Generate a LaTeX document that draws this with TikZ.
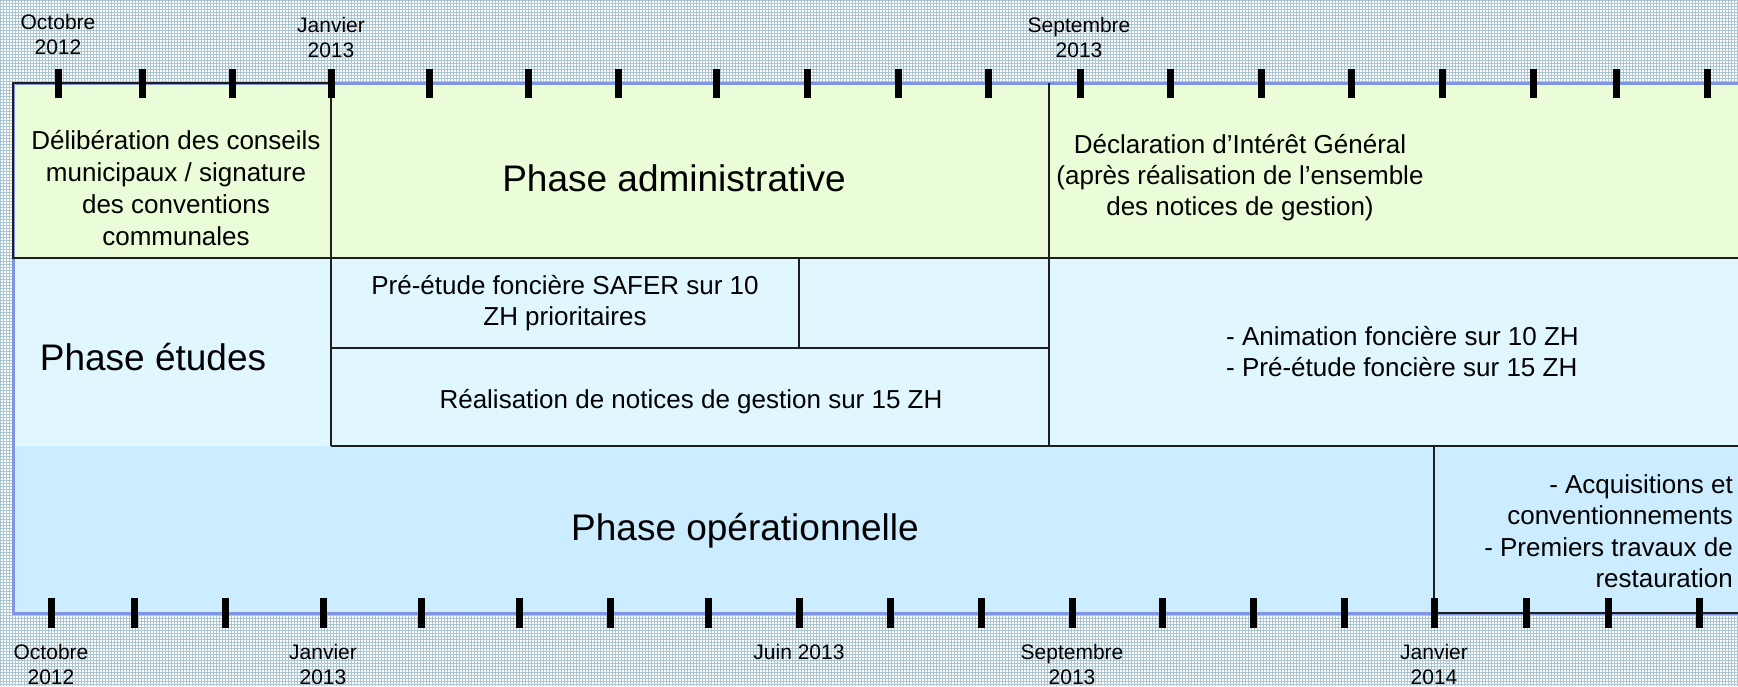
\documentclass[tikz,border=0pt]{standalone}
\usepackage{fontspec}
\setmainfont{Liberation Sans}
\definecolor{gridc}{RGB}{170,198,212}
\definecolor{greenc}{RGB}{234,253,216}
\definecolor{cyanc}{RGB}{225,247,255}
\definecolor{bluec}{RGB}{204,236,255}
\definecolor{framec}{RGB}{128,150,228}
\definecolor{darkc}{RGB}{30,30,30}
\begin{document}
\begin{tikzpicture}[x=1pt,y=-1pt,
  lbl/.style={font=\fontsize{21}{25}\selectfont, align=center, inner sep=0pt, text=black},
  txt/.style={font=\fontsize{26}{31.5}\selectfont, align=center, inner sep=0pt, text=black},
  ttl/.style={font=\fontsize{37}{44}\selectfont, inner sep=0pt, text=black},
  dk/.style={draw=darkc, line width=1.8pt},
  tickmark/.style={fill=black},
]
\useasboundingbox (0,0) rectangle (1738,686);
% background mesh
\fill[white] (0,0) rectangle (1738,686);
\draw[gridc, line width=0.7pt, step=3pt] (0,0) grid (1738,686);
% rows
\fill[greenc] (13,83) rectangle (1738,258);
\fill[cyanc] (13,258) rectangle (1738,446);
\fill[bluec] (13,446) rectangle (1738,613);
% blue frame
\draw[framec, line width=3pt] (1738,83) -- (13,83) -- (13,613) -- (1738,613);
% dark cell lines
\draw[dk] (13,83) rectangle (331,258);
\draw[dk] (331,258) -- (1738,258);
\draw[dk] (331,83) -- (331,446);
\draw[dk] (1049,83) -- (1049,446);
\draw[dk] (799,258) -- (799,348);
\draw[dk] (331,348) -- (1049,348);
\draw[dk] (331,446) -- (1738,446);
\draw[dk] (1434,446) -- (1434,613) -- (1738,613);
% top ticks
\foreach \x in {58,142,232,331,429,528,618,716,807,898,988,1080,1170,1261,1351,1442,1533,1616,1707}
  \fill[tickmark] (\x-3.5,69) rectangle (\x+3.5,98);
% bottom ticks
\foreach \x in {51,134,225,323,421,519,610,708,799,890,981,1072,1162,1253,1344,1434,1526,1608,1699}
  \fill[tickmark] (\x-3.5,598) rectangle (\x+3.5,628);
% top labels
\node[lbl] (toct) at (58,34) {Octobre\\2012};
\node[lbl] (tjan) at (331,37) {Janvier\\2013};
\node[lbl] (tsep) at (1079,37) {Septembre\\2013};
% bottom labels
\node[lbl] (boct) at (51,664) {Octobre\\2012};
\node[lbl] (bjan) at (323,664) {Janvier\\2013};
\node[lbl] (bjuin) at (799,652) {Juin 2013};
\node[lbl] (bsep) at (1072,664) {Septembre\\2013};
\node[lbl] (bjan14) at (1434,664) {Janvier\\2014};
% cell texts
\node[txt, font=\fontsize{26}{32}\selectfont] (delib) at (176,188) {Délibération des conseils\\municipaux / signature\\des conventions\\communales};
\node[ttl] (padmin) at (674,178) {Phase administrative};
\node[txt, font=\fontsize{26}{31}\selectfont] (dig) at (1240,178) {Déclaration d’Intérêt Général\\(après réalisation de l’ensemble\\des notices de gestion)};
\node[ttl] (petudes) at (153,357) {Phase études};
\node[txt] (safer) at (565,303) {Pré-étude foncière SAFER sur 10\\ZH prioritaires};
\node[txt] (notices) at (691,402) {Réalisation de notices de gestion sur 15 ZH};
\node[txt, align=left, anchor=west, font=\fontsize{26}{31}\selectfont] (anim) at (1226,352) {- Animation foncière sur 10 ZH\\- Pré-étude foncière sur 15 ZH};
\node[ttl] (pop) at (745,531) {Phase opérationnelle};
\node[txt, align=right, anchor=east] (acq) at (1733,531) {- Acquisitions et\\conventionnements\\- Premiers travaux de\\restauration};
\end{tikzpicture}
\end{document}
